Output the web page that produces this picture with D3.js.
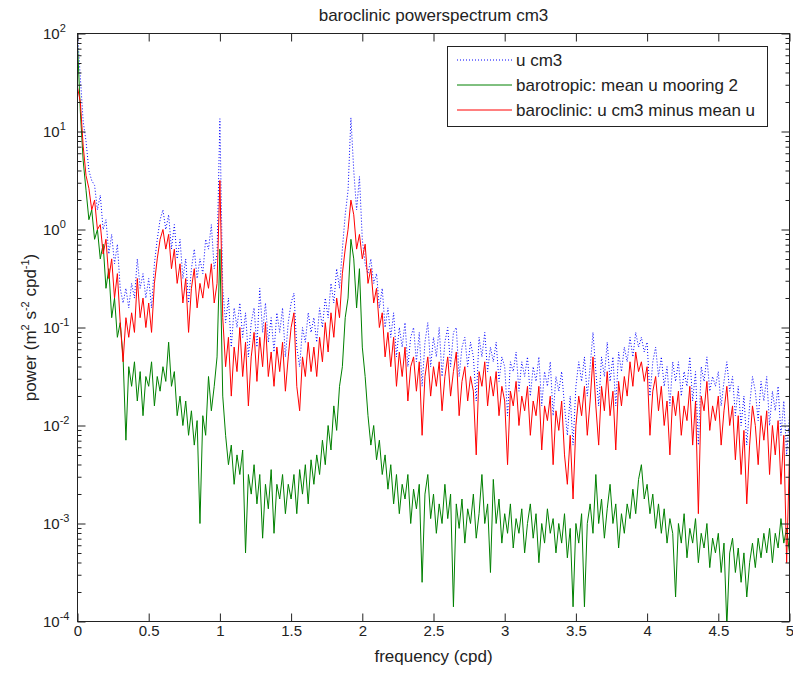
<!DOCTYPE html>
<html>
<head>
<meta charset="utf-8">
<script src="https://cdn.jsdelivr.net/npm/d3@7"></script>
<style>
  html, body { margin: 0; padding: 0; background: #fff; }
  svg text { font-family: "Liberation Sans", Arial, Helvetica, sans-serif; fill: #222; }
</style>
</head>
<body>
<svg id="chart" width="793" height="675"></svg>
<script>
/* ------------------------------------------------------------------
   Data: log10 of power, one value per 0.02 cpd
   ------------------------------------------------------------------ */
const df = 0.02;

const uCm3Log = [
  2.0, 1.55, 1.1, 0.9, 0.6, 0.5, 0.45, 0.2, 0.35, 0.0, 0.1, -0.25, -0.05, -0.35, -0.15, -0.6, -0.75, -0.6, -0.8, -0.55, -0.7, -0.3, -0.6, -0.45, -0.7,
  -0.5, -0.8, -0.35, -0.1, 0.1, 0.2, 0.0, 0.15, -0.2, 0.05, -0.3, -0.1, -0.5, -0.3, -0.75, -0.4, -0.2, -0.5, -0.3, -0.45, -0.1, -0.2, 0.05, -0.4, -0.25,
  1.13, -0.6, -0.95, -0.7, -1.2, -0.8, -1.0, -0.75, -1.1, -0.85, -1.3, -0.95, -0.8, -1.2, -0.6, -1.05, -0.75, -1.15, -0.9, -1.25, -0.85, -1.05, -0.8, -1.3, -0.95,
  -0.75, -0.65, -1.2, -1.4, -1.0, -1.15, -0.85, -1.05, -0.9, -1.15, -0.8, -1.0, -0.7, -0.9, -0.55, -0.75, -0.4, -0.6, -0.2, 0.15, 0.4, 1.14, 0.6, 0.2, 0.54,
  -0.1, -0.35, -0.45, -0.3, -0.55, -0.45, -0.8, -0.6, -1.0, -0.8, -1.1, -0.85, -1.3, -1.0, -1.2, -0.95, -1.4, -1.1, -1.0, -1.35, -1.05, -1.6, -1.15, -0.95, -1.4,
  -1.1, -1.3, -1.0, -1.5, -1.15, -1.0, -1.4, -1.05, -1.0, -1.5, -1.2, -1.1, -1.4, -1.15, -1.3, -1.75, -1.1, -1.3, -1.05, -1.45, -1.2, -1.35, -1.15, -1.55, -1.3,
  -1.4, -1.9, -1.35, -1.45, -1.25, -1.65, -1.35, -1.5, -1.3, -1.7, -1.4, -1.55, -1.3, -1.8, -1.45, -1.6, -1.35, -1.9, -1.5, -1.65, -1.45, -1.8, -2.1, -1.7, -2.2,
  -1.6, -1.35, -1.55, -1.3, -1.7, -1.4, -1.05, -1.45, -1.8, -1.3, -1.5, -1.15, -1.55, -1.3, -1.8, -1.25, -1.45, -1.2, -1.35, -1.1, -1.3, -1.05, -1.2, -1.1, -1.25,
  -1.15, -1.7, -1.35, -1.2, -1.5, -1.3, -1.6, -1.4, -1.8, -1.35, -1.55, -1.35, -1.7, -1.45, -1.6, -1.3, -1.75, -1.45, -2.2, -1.4, -1.55, -1.3, -1.65, -1.5, -1.6,
  -1.45, -1.8, -1.55, -1.35, -1.65, -1.5, -1.9, -1.6, -2.0, -1.7, -2.2, -1.8, -1.5, -1.65, -1.95, -1.55, -1.75, -1.5, -2.0, -1.65, -1.85, -1.6, -2.1, -1.75, -2.3, -1.9
];

const barotropicLog = [
  1.9, 1.2, 0.7, 0.4, 0.1, 0.2, -0.1, 0.0, -0.3, -0.15, -0.6, -0.4, -0.9, -0.7, -1.1, -0.95, -1.3, -2.15, -1.4, -1.6, -1.35, -1.75, -1.45, -1.9, -1.5,
  -1.6, -1.35, -1.8, -1.5, -1.65, -1.4, -1.55, -1.15, -1.6, -1.45, -1.9, -1.7, -2.0, -1.75, -2.1, -1.85, -2.2, -1.95, -3.0, -1.9, -2.1, -1.5, -1.85, -1.6, -1.3,
  -0.2, -1.7, -2.1, -2.4, -2.2, -2.6, -2.3, -2.5, -2.25, -3.3, -2.5, -2.7, -2.4, -2.8, -2.5, -3.15, -2.6, -2.85, -2.45, -3.1, -2.6, -2.75, -2.5, -2.9, -2.6,
  -2.75, -2.5, -2.9, -2.45, -2.7, -2.4, -2.8, -2.35, -2.6, -2.3, -2.5, -2.15, -2.4, -2.0, -2.25, -1.8, -2.05, -1.6, -1.4, -0.9, -0.7, -0.1, -0.3, -0.8, -0.4,
  -1.2, -1.5, -1.9, -2.2, -2.0, -2.35, -2.15, -2.5, -2.3, -2.65, -2.4, -2.8, -2.5, -2.9, -2.6, -2.75, -2.5, -3.0, -2.65, -2.85, -2.6, -3.6, -2.7, -2.5, -2.95,
  -2.7, -3.1, -2.8, -3.0, -2.6, -2.95, -2.7, -3.85, -2.8, -3.05, -2.75, -3.2, -2.85, -3.0, -2.7, -3.15, -2.9, -2.5, -3.0, -2.8, -3.5, -2.55, -3.0, -2.75, -3.2,
  -2.9, -3.1, -2.8, -3.25, -2.95, -3.1, -2.85, -3.3, -3.0, -2.8, -3.15, -2.9, -3.4, -3.0, -3.2, -2.85, -3.1, -2.95, -3.3, -3.0, -3.2, -2.9, -3.35, -3.05, -3.85,
  -3.0, -3.2, -2.9, -3.85, -3.0, -2.8, -3.1, -2.5, -3.0, -2.75, -3.15, -2.85, -2.6, -3.0, -2.8, -3.25, -2.9, -3.1, -2.8, -2.95, -2.65, -2.9, -2.55, -2.4, -2.75,
  -2.6, -2.9, -2.7, -3.05, -2.8, -3.1, -2.85, -3.2, -2.95, -3.1, -3.75, -3.0, -3.2, -2.9, -3.35, -3.05, -3.2, -2.95, -3.4, -3.1, -3.25, -3.0, -3.45, -3.15, -3.3,
  -3.1, -3.5, -3.2, -4.05, -3.3, -3.15, -3.5, -3.25, -3.6, -3.3, -3.75, -3.4, -3.2, -3.45, -3.15, -3.35, -3.1, -3.3, -3.05, -3.4, -3.1, -3.25, -2.95, -3.2, -3.05, -3.3
];

const baroclinicLog = [
  1.45, 1.3, 0.85, 0.55, 0.42, 0.2, 0.3, 0.0, 0.05, -0.25, -0.1, -0.5, -0.3, -0.7, -0.45, -0.95, -1.35, -0.9, -1.1, -0.85, -1.05, -0.5, -0.9, -0.7, -1.0,
  -0.75, -1.05, -0.55, -0.3, -0.1, 0.0, -0.2, -0.05, -0.4, -0.2, -0.55, -0.35, -0.75, -0.5, -1.05, -0.6, -0.4, -0.8, -0.55, -0.7, -0.45, -0.6, -0.35, -0.75, -0.55,
  0.5, -0.9, -1.4, -1.1, -1.7, -1.2, -1.45, -1.0, -1.5, -1.15, -1.8, -1.3, -1.05, -1.55, -1.1, -1.4, -0.95, -1.5, -1.25, -1.6, -1.2, -1.45, -1.15, -1.65, -1.3,
  -1.0, -0.85, -1.6, -1.85, -1.3, -1.5, -1.15, -1.45, -1.2, -1.5, -1.1, -1.35, -0.95, -1.25, -0.85, -1.1, -0.7, -0.9, -0.45, -0.2, 0.0, 0.3, 0.15, -0.2, -0.05,
  -0.3, -0.15, -0.55, -0.4, -0.75, -0.6, -1.0, -0.85, -1.3, -1.05, -1.4, -1.1, -1.6, -1.25, -1.5, -1.2, -1.75, -1.4, -1.3, -1.65, -1.35, -2.1, -1.5, -1.3, -1.7,
  -1.4, -1.6, -1.35, -1.85, -1.5, -1.3, -1.7, -1.45, -1.25, -1.9, -1.55, -1.4, -1.75, -1.5, -1.65, -2.3, -1.45, -1.6, -1.35, -1.8, -1.5, -1.7, -1.45, -1.9, -1.6,
  -1.75, -2.4, -1.65, -1.8, -1.55, -2.0, -1.7, -1.85, -1.6, -2.1, -1.75, -1.9, -1.6, -2.25, -1.8, -1.95, -1.7, -2.4, -1.85, -2.05, -1.75, -2.3, -2.6, -2.1, -2.75,
  -2.0, -1.7, -1.9, -1.6, -2.1, -1.75, -1.3, -1.8, -2.2, -1.6, -1.85, -1.45, -1.9, -1.65, -2.25, -1.55, -1.8, -1.5, -1.7, -1.35, -1.6, -1.25, -1.45, -1.35, -1.55,
  -1.4, -2.1, -1.65, -1.5, -1.85, -1.6, -2.0, -1.75, -2.3, -1.7, -1.9, -1.65, -2.1, -1.8, -1.95, -1.6, -2.2, -1.75, -2.9, -1.7, -1.85, -1.55, -2.05, -1.8, -1.95,
  -1.7, -2.2, -1.85, -1.6, -2.0, -1.8, -2.35, -1.9, -2.5, -2.05, -2.8, -2.2, -1.8, -2.0, -2.4, -1.9, -2.15, -1.85, -2.5, -2.0, -2.3, -1.95, -2.6, -2.1, -3.4, -2.3
];

const xTicks     = [0, 0.5, 1, 1.5, 2, 2.5, 3, 3.5, 4, 4.5, 5];
const yTickExps  = [-4, -3, -2, -1, 0, 1, 2];
const seriesNames  = ["u cm3", "barotropic: mean u mooring 2", "baroclinic: u cm3 minus mean u"];
const seriesColors = ["#0000ff", "#008000", "#ff0000"];

/* ------------------------------------------------------------------
   Layout / scales
   ------------------------------------------------------------------ */
const L = 77.5, R = 789.5, T = 33.5, B = 621.5;
const ink = "#222";

const svg = d3.select("#chart");
svg.append("rect").attr("width", 793).attr("height", 675).attr("fill", "#fff");

const x = d3.scaleLinear().domain([0, 5]).range([L, R]);
const y = d3.scaleLog().domain([1e-4, 1e2]).range([B, T]);

const toPoints = logs => logs.map((v, i) => ({ f: i * df, p: Math.pow(10, v) }));
const series = [uCm3Log, barotropicLog, baroclinicLog].map(toPoints);

/* ---------- clip + lines ---------- */
svg.append("clipPath").attr("id", "plotclip")
  .append("rect").attr("x", L).attr("y", T).attr("width", R - L).attr("height", B - T);

const line = d3.line().x(d => x(d.f)).y(d => y(d.p));
const plot = svg.append("g").attr("clip-path", "url(#plotclip)");

series.forEach((pts, i) => {
  plot.append("path")
    .datum(pts)
    .attr("d", line)
    .attr("fill", "none")
    .attr("stroke", seriesColors[i])
    .attr("stroke-width", 1)
    .attr("stroke-dasharray", i === 0 ? "1,2" : null);
});

/* ---------- axes (ticks inside, MATLAB style) ---------- */
const styleAxis = g => {
  g.attr("color", ink).attr("font-size", 15)
   .attr("font-family", "'Liberation Sans', Arial, sans-serif");
  g.select(".domain").remove();
};

svg.append("g").attr("transform", `translate(0,${B})`)
  .call(d3.axisBottom(x).tickValues(xTicks).tickSize(-8).tickPadding(4).tickFormat(d3.format("~g")))
  .call(styleAxis);

svg.append("g").attr("transform", `translate(0,${T})`)
  .call(d3.axisTop(x).tickValues(xTicks).tickSize(-8).tickFormat(""))
  .call(styleAxis);

const majors = yTickExps.map(e => Math.pow(10, e));
const minors = [];
yTickExps.slice(0, -1).forEach(e => { for (let m = 2; m <= 9; m++) minors.push(m * Math.pow(10, e)); });

[[d3.axisLeft, L], [d3.axisRight, R]].forEach(([ax, pos]) => {
  svg.append("g").attr("transform", `translate(${pos},0)`)
    .call(ax(y).tickValues(majors).tickSize(-8).tickFormat(""))
    .call(styleAxis);
  svg.append("g").attr("transform", `translate(${pos},0)`)
    .call(ax(y).tickValues(minors).tickSize(-4).tickFormat(""))
    .call(styleAxis);
});

/* y tick labels: 10 with superscript exponent */
yTickExps.forEach(e => {
  const t = svg.append("text")
    .attr("x", 43).attr("y", y(Math.pow(10, e)) + 5)
    .attr("font-size", 15);
  t.append("tspan").text("10");
  t.append("tspan").attr("dy", -7).attr("font-size", 11).text(String(e));
});

/* box */
svg.append("rect")
  .attr("x", L).attr("y", T).attr("width", R - L).attr("height", B - T)
  .attr("fill", "none").attr("stroke", ink).attr("stroke-width", 1);

/* ---------- titles ---------- */
svg.append("text")
  .attr("x", (L + R) / 2).attr("y", 21)
  .attr("text-anchor", "middle").attr("font-size", 17)
  .text("baroclinic powerspectrum cm3");

svg.append("text")
  .attr("x", (L + R) / 2).attr("y", 662)
  .attr("text-anchor", "middle").attr("font-size", 17)
  .text("frequency (cpd)");

const yl = svg.append("text")
  .attr("transform", `translate(36,${(T + B) / 2}) rotate(-90)`)
  .attr("text-anchor", "middle").attr("font-size", 17);
[["power (m", 0, 17], ["2", -7, 11], [" s", 7, 17], ["-2", -7, 11],
 [" cpd", 7, 17], ["-1", -7, 11], [")", 7, 17]].forEach(([s, dy, fs]) => {
  yl.append("tspan").attr("dy", dy).attr("font-size", fs).text(s);
});

/* ---------- legend ---------- */
const lg = svg.append("g");
lg.append("rect")
  .attr("x", 447.5).attr("y", 46.5).attr("width", 320).attr("height", 80)
  .attr("fill", "#fff").attr("stroke", ink).attr("stroke-width", 1);

seriesNames.forEach((name, i) => {
  const cy = 60 + i * 25;
  lg.append("line")
    .attr("x1", 457).attr("x2", 512).attr("y1", cy).attr("y2", cy)
    .attr("stroke", seriesColors[i]).attr("stroke-width", 1)
    .attr("stroke-dasharray", i === 0 ? "1,2" : null);
  lg.append("text")
    .attr("x", 516).attr("y", cy + 6)
    .attr("font-size", 17)
    .text(name);
});
</script>
</body>
</html>
